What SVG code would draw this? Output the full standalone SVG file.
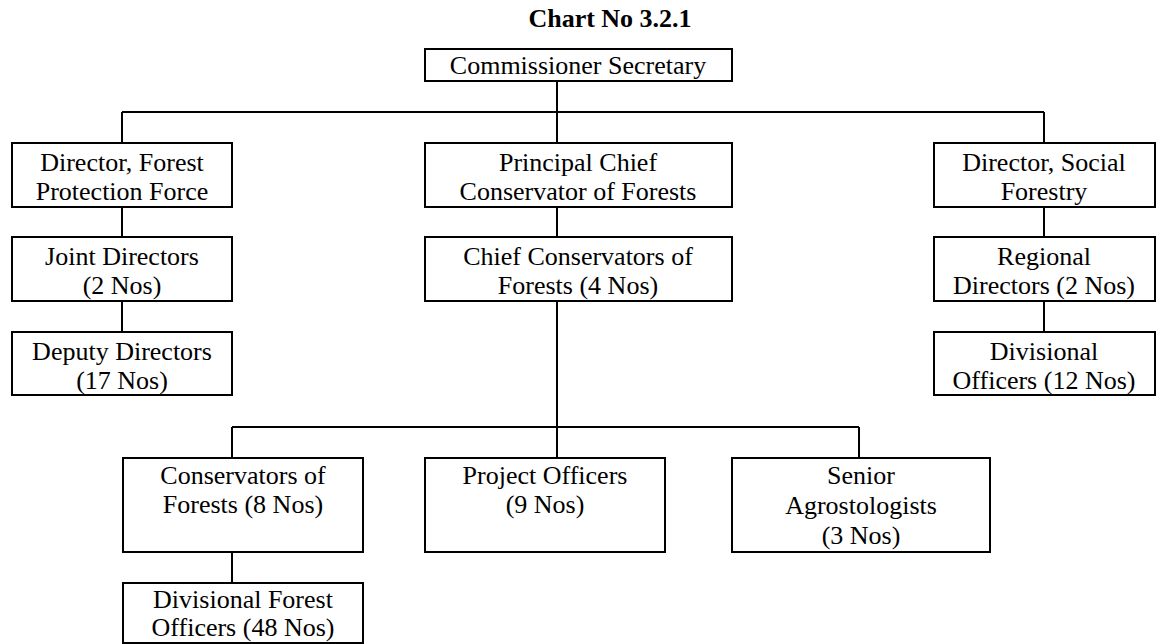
<svg xmlns="http://www.w3.org/2000/svg" width="1158" height="644" viewBox="0 0 1158 644">
<style>
rect{fill:#fff;stroke:#000;stroke-width:2}
text{font-family:"Liberation Serif","Times New Roman",serif;font-size:26px;text-anchor:middle;fill:#000}
.t{font-weight:bold}
#connectors path{fill:none;stroke:#000;stroke-width:2}
</style>
<rect x="0" y="0" width="1158" height="644" style="stroke:none"/>
<text class="t" x="610" y="27">Chart No 3.2.1</text>
<g id="connectors">
<path d="M557 81V112M122 112H1044M122 112V143M557 112V143M1044 112V143"/>
<path d="M122 207V237M122 301V332"/>
<path d="M557 207V237M557 301V458M232 427H859M232 427V458M859 427V458"/>
<path d="M1044 207V237M1044 301V332"/>
<path d="M232 552V583"/>
</g>
<g id="n-comm"><rect x="425" y="49" width="307" height="32"/><text x="578" y="74">Commissioner Secretary</text></g>
<g id="n-dfpf"><rect x="12" y="143" width="220" height="64"/><text x="122" y="171">Director, Forest</text><text x="122" y="200">Protection Force</text></g>
<g id="n-jd"><rect x="12" y="237" width="220" height="64"/><text x="122" y="265">Joint Directors</text><text x="122" y="294">(2 Nos)</text></g>
<g id="n-dd"><rect x="12" y="332" width="220" height="63"/><text x="122" y="360">Deputy Directors</text><text x="122" y="389">(17 Nos)</text></g>
<g id="n-pccf"><rect x="425" y="143" width="307" height="64"/><text x="578" y="171">Principal Chief</text><text x="578" y="200">Conservator of Forests</text></g>
<g id="n-ccf"><rect x="425" y="237" width="307" height="64"/><text x="578" y="265">Chief Conservators of</text><text x="578" y="294">Forests (4 Nos)</text></g>
<g id="n-dsf"><rect x="934" y="143" width="221" height="64"/><text x="1044" y="171">Director, Social</text><text x="1044" y="200">Forestry</text></g>
<g id="n-rd"><rect x="934" y="237" width="221" height="64"/><text x="1044" y="265">Regional</text><text x="1044" y="294">Directors (2 Nos)</text></g>
<g id="n-do"><rect x="934" y="332" width="221" height="63"/><text x="1044" y="360">Divisional</text><text x="1044" y="389">Officers (12 Nos)</text></g>
<g id="n-cf"><rect x="123" y="458" width="240" height="94"/><text x="243" y="484">Conservators of</text><text x="243" y="513">Forests (8 Nos)</text></g>
<g id="n-po"><rect x="425" y="458" width="240" height="94"/><text x="545" y="484">Project Officers</text><text x="545" y="513">(9 Nos)</text></g>
<g id="n-sa"><rect x="732" y="458" width="258" height="94"/><text x="861" y="484">Senior</text><text x="861" y="514">Agrostologists</text><text x="861" y="544">(3 Nos)</text></g>
<g id="n-dfo"><rect x="123" y="583" width="240" height="60"/><text x="243" y="608">Divisional Forest</text><text x="243" y="636">Officers (48 Nos)</text></g>
</svg>
